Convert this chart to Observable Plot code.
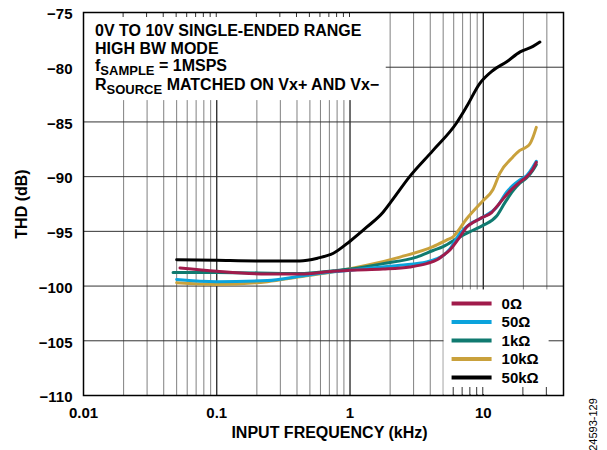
<!DOCTYPE html>
<html><head><meta charset="utf-8">
<script src="https://cdn.jsdelivr.net/npm/d3@7"></script>
<script src="https://cdn.jsdelivr.net/npm/@observablehq/plot@0.6"></script>
<style>
body{margin:0;background:#fff;}
#chart svg{font-family:"Liberation Sans",Arial,sans-serif;}
</style>
</head><body><div id="chart"></div>
<script>
// ---- data (frequency in kHz, THD in dB) ----
const seriesNames = ["0Ω", "50Ω", "1kΩ", "10kΩ", "50kΩ"];
const seriesColors = ["#A01B4B", "#0BA3DC", "#107A70", "#C9A13C", "#000000"];

const f_0 = [0.053,0.1,0.24,0.42,0.75,1.0,1.77,2.82,3.76,4.5,5.0,5.62,6.68,7.51,8.37,9.95,11.5,13.3,15.9,18.8,21.2,23.6,25];
const thd_0 = [-98.35,-98.65,-98.9,-98.9,-98.65,-98.55,-98.45,-98.25,-97.95,-97.6,-97.2,-96.7,-95.5,-94.6,-94.2,-93.7,-93.3,-92.4,-91.3,-90.5,-90.0,-89.3,-88.7];

const f_50 = [0.05,0.1,0.24,0.42,0.75,1.34,2.37,3.76,4.5,5.0,5.62,6.68,8.0,8.93,9.95,12.6,15,16.7,18.8,21.2,23.6,25];
const thd_50 = [-99.4,-99.6,-99.5,-99.1,-98.7,-98.4,-98.1,-97.8,-97.5,-97.2,-96.6,-95.2,-94.3,-94.0,-93.7,-92.8,-91.4,-90.8,-90.3,-89.9,-89.1,-88.6];

const f_1k = [0.047,0.1,0.42,0.75,1.0,1.77,3.16,4.2,5.0,6.68,8.37,9.95,12.6,14.5,16.7,18.8,21.2,23.6,25];
const thd_1k = [-98.75,-98.75,-98.85,-98.6,-98.45,-97.95,-97.35,-96.75,-96.4,-95.5,-94.9,-94.45,-93.6,-92.4,-91.3,-90.6,-90.1,-89.4,-88.9];

const f_10k = [0.05,0.1,0.24,0.42,0.75,1.34,2.37,4.2,5.3,5.93,7.51,9.95,11.8,13.3,16.7,18.8,21,22.4,23.6,25];
const thd_10k = [-99.7,-99.85,-99.6,-99.15,-98.7,-98.1,-97.35,-96.4,-95.8,-95.5,-93.85,-92.2,-91.2,-89.7,-88.2,-87.6,-87.3,-87.0,-86.4,-85.5];

const f_50k = [0.05,0.1,0.2,0.3,0.42,0.57,0.75,1.0,1.34,1.77,2.06,2.8,4.2,6.3,7.5,9.4,11.8,15,18.9,23.6,26.6];
const thd_50k = [-97.6,-97.65,-97.7,-97.7,-97.7,-97.45,-97.0,-95.9,-94.6,-93.25,-92.2,-90.0,-87.6,-85.1,-83.6,-81.5,-80.3,-79.5,-78.6,-78.1,-77.7];

const xTickValues = [0.01, 0.1, 1, 10, 40];
const yTickValues = [-110, -105, -100, -95, -90, -85, -80, -75];
const xMinorGrid = [0.02,0.03,0.04,0.05,0.06,0.07,0.08,0.09,0.2,0.3,0.4,0.5,0.6,0.7,0.8,0.9,2,3,4,5,6,7,8,9,20,30];
const xMajorGrid = [0.1, 1, 10];
const yGrid = [-105, -100, -95, -90, -85, -80];

const annotationLines = [
  [["0V TO 10V SINGLE-ENDED RANGE", false]],
  [["HIGH BW MODE", false]],
  [["f", false], ["SAMPLE", true], [" = 1MSPS", false]],
  [["R", false], ["SOURCE", true], [" MATCHED ON Vx+ AND Vx−", false]]
];

// ---- build table ----
const fs = [f_0, f_50, f_1k, f_10k, f_50k];
const ts = [thd_0, thd_50, thd_1k, thd_10k, thd_50k];
const rows = [];
seriesNames.forEach((name, i) => fs[i].forEach((f, j) => rows.push({series: name, f, thd: ts[i][j]})));
const drawOrder = ["10kΩ", "1kΩ", "50Ω", "0Ω", "50kΩ"];

const FONT = '"Liberation Sans",Arial,sans-serif';

function overlay(index, scales, values, dims) {
  const x = scales.x, y = scales.y;
  const g = d3.create("svg:g");
  const L = dims.marginLeft, T = dims.marginTop;
  const B = dims.height - dims.marginBottom;
  // annotation box
  const annX2 = x(1.87), annY2 = y(-83.05);
  g.append("rect").attr("x", L + 1).attr("y", T + 1).attr("width", annX2 - L - 1).attr("height", annY2 - T - 1).attr("fill", "white");
  // legend box
  const legX1 = x(5.08), legX2 = x(31.2), legY1 = y(-100.35);
  g.append("rect").attr("x", legX1).attr("y", legY1).attr("width", legX2 - legX1).attr("height", B - legY1 - 1).attr("fill", "white");
  // ticks
  for (const v of [...xMinorGrid, ...xMajorGrid]) {
    const px = x(v);
    if (px > L + 2 && px < annX2)
      g.append("line").attr("x1", px).attr("x2", px).attr("y1", T).attr("y2", T + 5).attr("stroke", "#333").attr("stroke-width", 1);
    if (px > legX1 && px < legX2)
      g.append("line").attr("x1", px).attr("x2", px).attr("y1", B - 8).attr("y2", B).attr("stroke", "#333").attr("stroke-width", 1);
  }
  // annotation text
  const baselines = [36, 54, 71, 90];
  annotationLines.forEach((parts, i) => {
    const t = g.append("text").attr("x", L + 12).attr("y", baselines[i]).attr("text-anchor", "start")
      .attr("font-family", FONT).attr("font-weight", "bold").attr("font-size", 16).attr("fill", "#000");
    parts.forEach(([s, sub], k) => {
      const ts = t.append("tspan").text(s);
      if (sub) ts.attr("font-size", 13).attr("dy", 4);
      else if (k > 0 && parts[k - 1][1]) ts.attr("dy", -4);
    });
  });
  // legend
  const rowY = [303.5, 322, 340.5, 359, 377.5];
  seriesNames.forEach((name, i) => {
    g.append("line").attr("x1", legX1 + 8).attr("x2", legX1 + 48).attr("y1", rowY[i]).attr("y2", rowY[i])
      .attr("stroke", seriesColors[i]).attr("stroke-width", 4);
    g.append("text").attr("x", legX1 + 58).attr("y", rowY[i]).attr("dy", "0.36em").attr("text-anchor", "start")
      .attr("font-family", FONT).attr("font-weight", "bold").attr("font-size", 15).text(name);
  });
  return g.node();
}

const chart = Plot.plot({
  width: 607,
  height: 450,
  marginLeft: 83,
  marginRight: 44,
  marginTop: 12,
  marginBottom: 55,
  style: {fontFamily: FONT, background: "white", color: "black"},
  x: {type: "log", domain: [0.01, 40]},
  y: {domain: [-110, -75]},
  color: {domain: seriesNames, range: seriesColors},
  marks: [
    Plot.ruleX(xMinorGrid, {stroke: "#808080", strokeWidth: 1}),
    Plot.ruleX(xMajorGrid, {stroke: "#111", strokeWidth: 1.2}),
    Plot.ruleY(yGrid, {stroke: "#333", strokeWidth: 1}),
    overlay,
    Plot.line(rows, {
      x: "f", y: "thd", z: "series", stroke: "series", strokeWidth: 3,
      curve: "monotone-x",
      sort: (a, b) => drawOrder.indexOf(a.series) - drawOrder.indexOf(b.series) || a.f - b.f
    }),
    Plot.frame({stroke: "black", strokeWidth: 1.5}),
    Plot.axisX({ticks: xTickValues, tickSize: 0, tickPadding: 12, fontSize: 15, fontWeight: "bold",
      tickFormat: d => String(d), label: null}),
    Plot.axisY({ticks: yTickValues, tickSize: 0, tickPadding: 11, fontSize: 15, fontWeight: "bold",
      dy: 2, tickFormat: d => (d < 0 ? "\u2212" : "") + Math.abs(d), label: null}),
    Plot.text(["THD (dB)"], {frameAnchor: "left", dx: -62, rotate: -90, textAnchor: "middle", fontSize: 16, fontWeight: "bold"}),
    Plot.text(["INPUT FREQUENCY (kHz)"], {frameAnchor: "bottom", dx: 6, dy: 42, textAnchor: "middle", fontSize: 16, fontWeight: "bold"}),
    Plot.text(["24593-129"], {frameAnchor: "bottom-right", dx: 33, dy: 29, rotate: -90, textAnchor: "middle", fontSize: 11})
  ]
});
document.getElementById("chart").appendChild(chart);
</script>
</body></html>
